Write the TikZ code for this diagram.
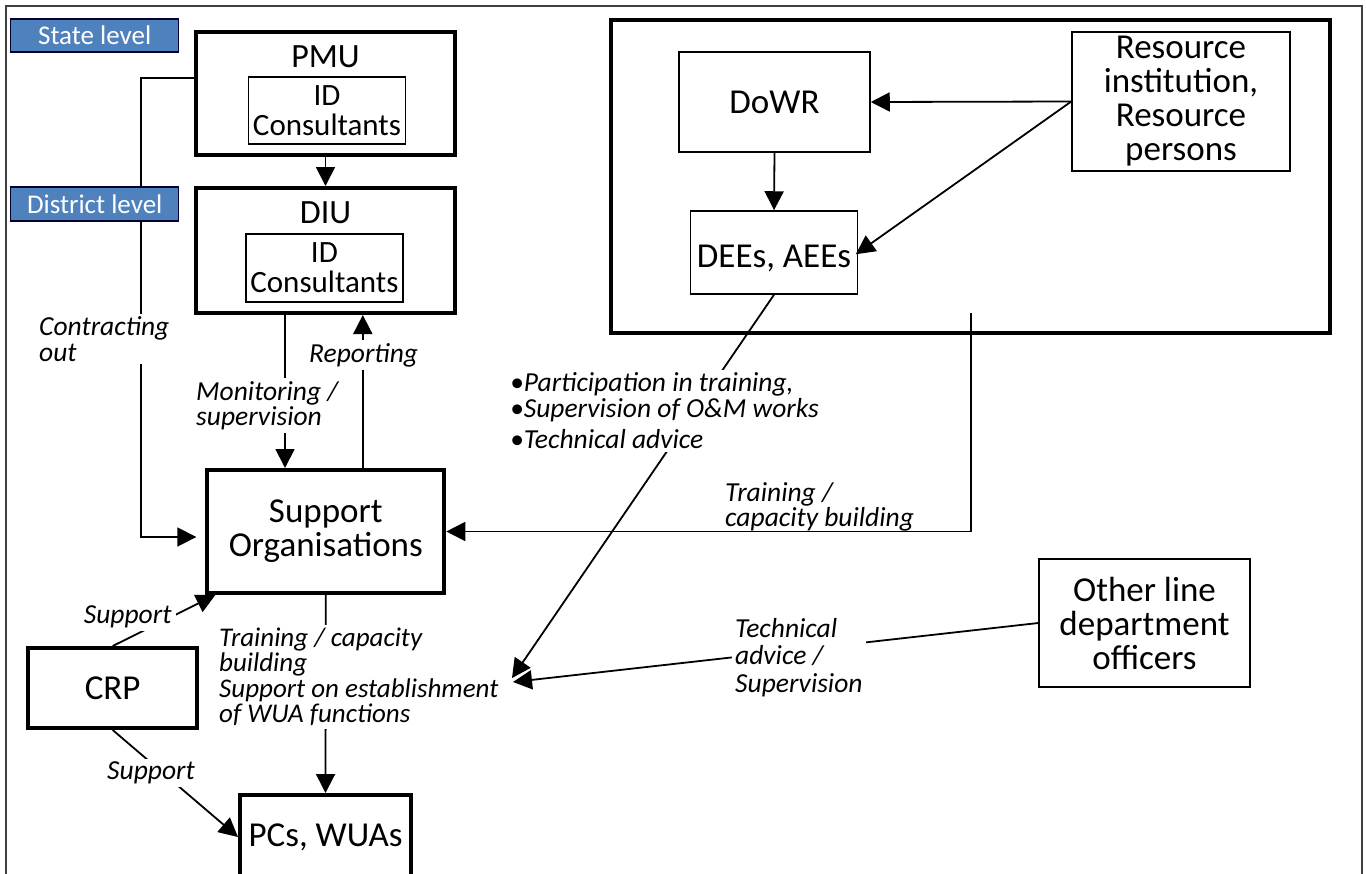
\documentclass[tikz,border=0pt]{standalone}
\usepackage{fontspec}
\setmainfont{Carlito}
\usetikzlibrary{arrows.meta,calc}
\begin{document}
\begin{tikzpicture}[x=1pt,y=-1pt,
  thickbox/.style={draw, line width=4pt, inner sep=0pt, align=center},
  thinbox/.style={draw, line width=1.5pt, inner sep=0pt, align=center,
    font=\fontsize{35}{34}\selectfont},
  bigtext/.style={inner sep=0pt, align=center, font=\fontsize{35}{34}\selectfont},
  idbox/.style={draw, line width=1.5pt, inner sep=0pt, align=center,
    font=\fontsize{31}{30}\selectfont},
  levelbox/.style={draw=black!80!blue, line width=1.3pt, fill={rgb,255:red,79;green,129;blue,189},
    text=white, inner sep=0pt, font=\fontsize{27}{27}\selectfont},
  lbl/.style={inner sep=3pt, align=left, font=\fontsize{27.5}{25.5}\selectfont\itshape},
  mask/.style={fill=white},
  arr/.style={line width=1.8pt, -{Triangle[length=19pt,width=19pt]}}
]
\useasboundingbox (0,0) rectangle (1367,873);
\clip (0,0) rectangle (1367,873);

% outer frame
\draw[line width=1.2pt, draw=black!75] (6,6) rectangle (1362,900);

% state level units
\node[thickbox, minimum width=259pt, minimum height=123pt] (pmu) at (325.5,93.5) {};
\node[bigtext, font=\fontsize{34}{34}\selectfont] (pmut) at (325.5,57) {PMU};
\node[idbox, minimum width=157pt, minimum height=67pt] (pmuid) at (327,110.5) {ID\\Consultants};

% district level units
\node[thickbox, minimum width=259pt, minimum height=125pt] (diu) at (325.5,250.5) {};
\node[bigtext, font=\fontsize{34}{34}\selectfont] (diut) at (325.5,213) {DIU};
\node[idbox, minimum width=157pt, minimum height=68pt] (diuid) at (324.4,268) {ID\\Consultants};

% field level
\node[thickbox, font=\fontsize{35}{34}\selectfont, minimum width=237pt, minimum height=123pt] (so) at (325.8,531.5) {Support\\Organisations};
\node[thickbox, font=\fontsize{35}{34}\selectfont, minimum width=169pt, minimum height=80pt] (crp) at (112.7,688) {CRP};
\node[thickbox, font=\fontsize{35}{34}\selectfont, minimum width=171pt, minimum height=84pt] (pcs) at (325.5,837) {PCs, WUAs};

% department block
\node[thickbox, minimum width=719pt, minimum height=313pt] (dept) at (970.5,176.5) {};
\node[thinbox, minimum width=191pt, minimum height=100pt] (dowr) at (774.5,102) {DoWR};
\node[thinbox, minimum width=218pt, minimum height=139pt] (res) at (1181,101.5) {Resource\\institution,\\Resource\\persons};
\node[thinbox, minimum width=167pt, minimum height=83pt, text height=34pt, text depth=5pt] (dees) at (774,252.5) {DEEs, AEEs};
\node[thinbox, minimum width=211pt, minimum height=128pt] (other) at (1144.5,623) {Other line\\department\\officers};

% free ends of connectors
\coordinate (cA) at (141,78);
\coordinate (cB) at (141,537);
\coordinate (mn) at ([xshift=-40.5pt]diu.south);
\coordinate (rp) at ([xshift=37pt]so.north);
\coordinate (tr) at (971,313);
\coordinate (soc) at ([xshift=10pt]so.south west);
\coordinate (meetA) at (512,678);
\coordinate (meetB) at (513,682);

% connectors
\draw[arr] (pmu.south) -- (diu.north);
\draw[arr, shorten >=9pt] (pmu.west |- cA) -- (cA) -- (cB) -- (cB -| so.west);
\draw[arr] (mn) -- (mn |- so.north);
\draw[arr] (rp) -- (rp |- diu.south);
\draw[arr] (res.west) -- (dowr.east);
\draw[arr, shorten >=-3pt] (res.west) -- (dees.east);
\draw[arr] (dowr.south) -- (dees.north);
\draw[arr] (tr) -- (tr |- so.east) -- (so.east);
\draw[arr] (crp.north) -- (soc);
\draw[arr] (crp.south) -- (pcs.west);
\draw[arr] (so.south) -- (pcs.north);

% connector labels
\node[lbl, mask, anchor=west] (lco) at (36,339) {Contracting\\out};
\node[lbl, mask, anchor=west] (lmo) at (193,405.5) {Monitoring /\\supervision};
\node[lbl, mask, anchor=west] (lre) at (306,355) {Reporting};
\node[lbl, anchor=west, font=\fontsize{27.5}{23.5}\selectfont\itshape] (ltr) at (722,506.5) {Training /\\capacity building};
\node[lbl, mask, inner xsep=1pt, anchor=west, font=\fontsize{27}{25.5}\selectfont\itshape] (lso) at (218,677)
  {Training / capacity\\building\\Support on establishment\\of WUA functions};
\node[lbl, mask, inner xsep=4pt] (lsu1) at (127.7,617) {Support};
\node[lbl, mask] (lsu2) at (151,773) {Support};

% converging connectors
\draw[arr] (dees.south) -- (meetA);
\draw[arr] (other.west) -- (meetB);
\node[lbl, mask, anchor=west] (ltask) at (507,411)
  {•Participation in training,\\•Supervision of O\&M works\\[6pt]•Technical advice};
\node[lbl, mask, anchor=west, font=\fontsize{27.5}{27.5}\selectfont\itshape] (ltech) at (732,657.5)
  {Technical\\advice /\\Supervision};

% level tags
\node[levelbox, minimum width=168pt, minimum height=33pt] (state) at (94.7,35.5) {State level};
\node[levelbox, minimum width=168pt, minimum height=34pt] (district) at (94.7,204) {District level};
\end{tikzpicture}
\end{document}
